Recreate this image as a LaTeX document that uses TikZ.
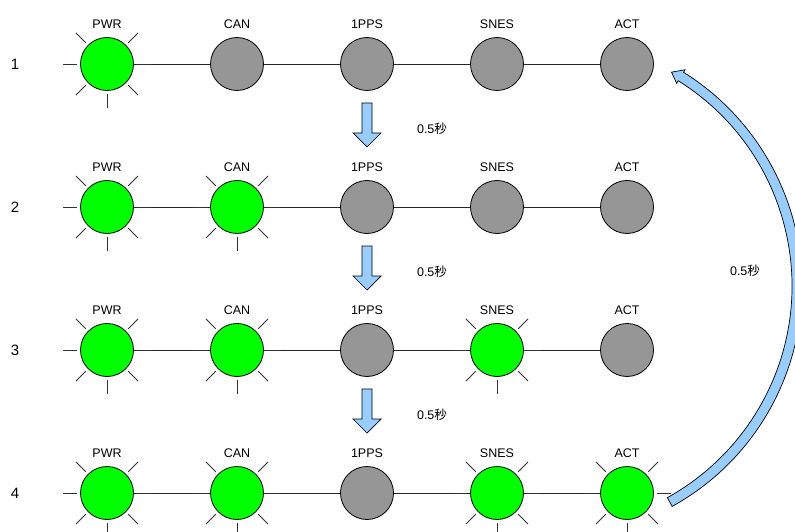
\documentclass[tikz,border=0pt]{standalone}
\usepackage{fontspec}
\setmainfont{Liberation Sans}
\newfontfamily\jp{Noto Sans CJK JP}
\usetikzlibrary{calc}
\definecolor{ledgreen}{HTML}{00FF00}
\definecolor{ledgray}{HTML}{969696}
\definecolor{arrowblue}{HTML}{99CCFF}
\begin{document}
\begin{tikzpicture}[x=1pt,y=1pt,
 led/.style={circle,draw=black,line width=0.8pt,minimum size=53pt,inner sep=0pt},
 ledon/.style={led,fill=ledgreen},
 ledoff/.style={led,fill=ledgray},
 lbl/.style={font=\fontsize{12.5}{14}\selectfont,inner sep=0pt},
 rownum/.style={font=\fontsize{15}{17}\selectfont,inner sep=0pt},
 wire/.style={draw=black!85,line width=0.8pt},
 ray/.style={draw=black!80,line width=0.8pt},
 bluearrow/.style={draw=black,line width=0.7pt,fill=arrowblue},
 timelbl/.style={font=\fontsize{12.5}{14}\selectfont,inner sep=0pt}]
\useasboundingbox (0,0) rectangle (795,531);
\foreach \row/\y/\sa/\sb/\sc/\sd/\se in {1/467/on/off/off/off/off, 2/324/on/on/off/off/off, 3/181/on/on/off/on/off, 4/38/on/on/off/on/on} {
  \node[rownum] (n\row) at (15,\y) {\row};
  \node[led\sa] (p\row) at (107,\y) {};
  \node[led\sb] (c\row) at (237,\y) {};
  \node[led\sc] (o\row) at (367,\y) {};
  \node[led\sd] (s\row) at (497,\y) {};
  \node[led\se] (a\row) at (627,\y) {};
  \node[lbl] (lp\row) at (107,\y+40) {PWR};
  \node[lbl] (lc\row) at (237,\y+40) {CAN};
  \node[lbl] (lo\row) at (367,\y+40) {1PPS};
  \node[lbl] (ls\row) at (497,\y+40) {SNES};
  \node[lbl] (la\row) at (627,\y+40) {ACT};
  \draw[wire] (p\row) -- (c\row) -- (o\row) -- (s\row) -- (a\row);
}
\foreach \nm in {p1,p2,c2,p3,c3,s3,p4,c4,s4,a4} {
  \foreach \a in {0,45,135,180,225,270,315}
    \draw[ray] ($(\nm.center)+(\a:30)$) -- ($(\nm.center)+(\a:44)$);
}
\foreach \t/\k in {428/1,285/2,142/3} {
  \draw[bluearrow] (362,\t) -- (372,\t) -- (372,\t-30) -- (381,\t-30) -- (367,\t-44) -- (353,\t-30) -- (362,\t-30) -- cycle;
  \node[timelbl] (t\k) at (432,\t-26) {0.5{\jp 秒}};
}
\coordinate (C) at (550,245);
\draw[bluearrow] ($(C)+(-61:252)$) arc[start angle=-61,end angle=58,radius=252pt]
  -- ($(C)+(58:255)$) -- ($(C)+(60.4:246)$) -- ($(C)+(58:239)$) -- ($(C)+(58:242)$)
  arc[start angle=58,end angle=-61,radius=242pt] -- cycle;
\node[timelbl] (t4) at (745,260) {0.5{\jp 秒}};
\end{tikzpicture}
\end{document}
